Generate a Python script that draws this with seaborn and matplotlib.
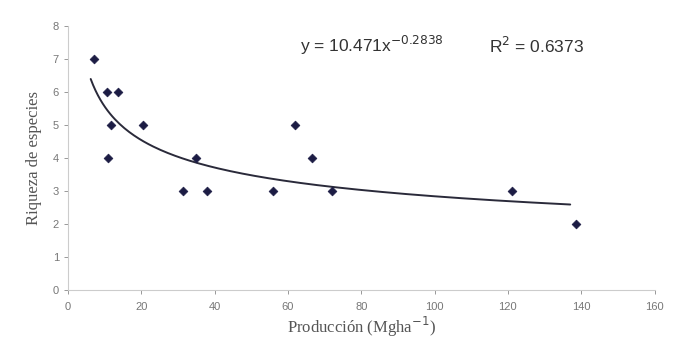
import numpy as np
import pandas as pd
import seaborn as sns
import matplotlib.pyplot as plt

# values
produccion = [7, 10.6, 13.6, 11.7, 20.4, 10.9, 35, 31.3, 37.9, 56, 72, 62, 66.5, 121, 138.5]
riqueza = [7, 6, 6, 5, 5, 4, 4, 3, 3, 3, 3, 5, 4, 3, 2]
x_ticks = [0, 20, 40, 60, 80, 100, 120, 140, 160]
y_ticks = [0, 1, 2, 3, 4, 5, 6, 7, 8]
eq_label = "y = 10.471x$^{-0.2838}$"
r2_label = "R$^2$ = 0.6373"

df = pd.DataFrame({"produccion": produccion, "riqueza": riqueza})

sns.set_style("white")
plt.rcParams['font.family'] = ['Liberation Sans', 'DejaVu Sans']

fig = plt.figure(figsize=(6.75, 3.46), dpi=100)
ax = fig.add_axes([0.1007, 0.162, 0.869, 0.763])

sns.scatterplot(data=df, x="produccion", y="riqueza", ax=ax, marker="D",
                s=20, color="#1c1c44", edgecolor="#1c1c44", linewidth=0.5, zorder=3)

# power trend line fitted in log-log space
b, log_a = np.polyfit(np.log(df["produccion"]), np.log(df["riqueza"]), 1)
xs = np.linspace(df["produccion"].min() - 0.8, df["produccion"].max() - 1.5, 200)
ax.plot(xs, np.exp(log_a) * xs ** b, color="#2a2a3a", lw=1.4, zorder=2)

ax.set_xlim(0, 160)
ax.set_ylim(0, 8)
ax.set_xticks(x_ticks)
ax.set_yticks(y_ticks)
ax.tick_params(axis="both", labelsize=8, colors="#888888", length=3, direction="out",
               width=0.6, bottom=True, left=True)
ax.tick_params(axis="x", pad=6)
for lab in ax.get_xticklabels() + ax.get_yticklabels():
    lab.set_color("#777777")

sns.despine(ax=ax)
for side in ["left", "bottom"]:
    ax.spines[side].set_color("#cccccc")
    ax.spines[side].set_linewidth(0.8)

ax.set_xlabel("Producción (Mgha$^{-1}$)", family=["Liberation Serif", "DejaVu Serif"],
              fontsize=12, color="#555555", labelpad=2)
ax.set_ylabel("Riqueza de especies", family=["Liberation Serif", "DejaVu Serif"],
              fontsize=12, color="#555555", labelpad=8)

ax.text(0.395, 0.925, eq_label, transform=ax.transAxes, fontsize=12.5,
        color="#333333", va="center", ha="left")
ax.text(0.718, 0.925, r2_label, transform=ax.transAxes, fontsize=12.5,
        color="#333333", va="center", ha="left")

fig.savefig("out.png", dpi=100)
